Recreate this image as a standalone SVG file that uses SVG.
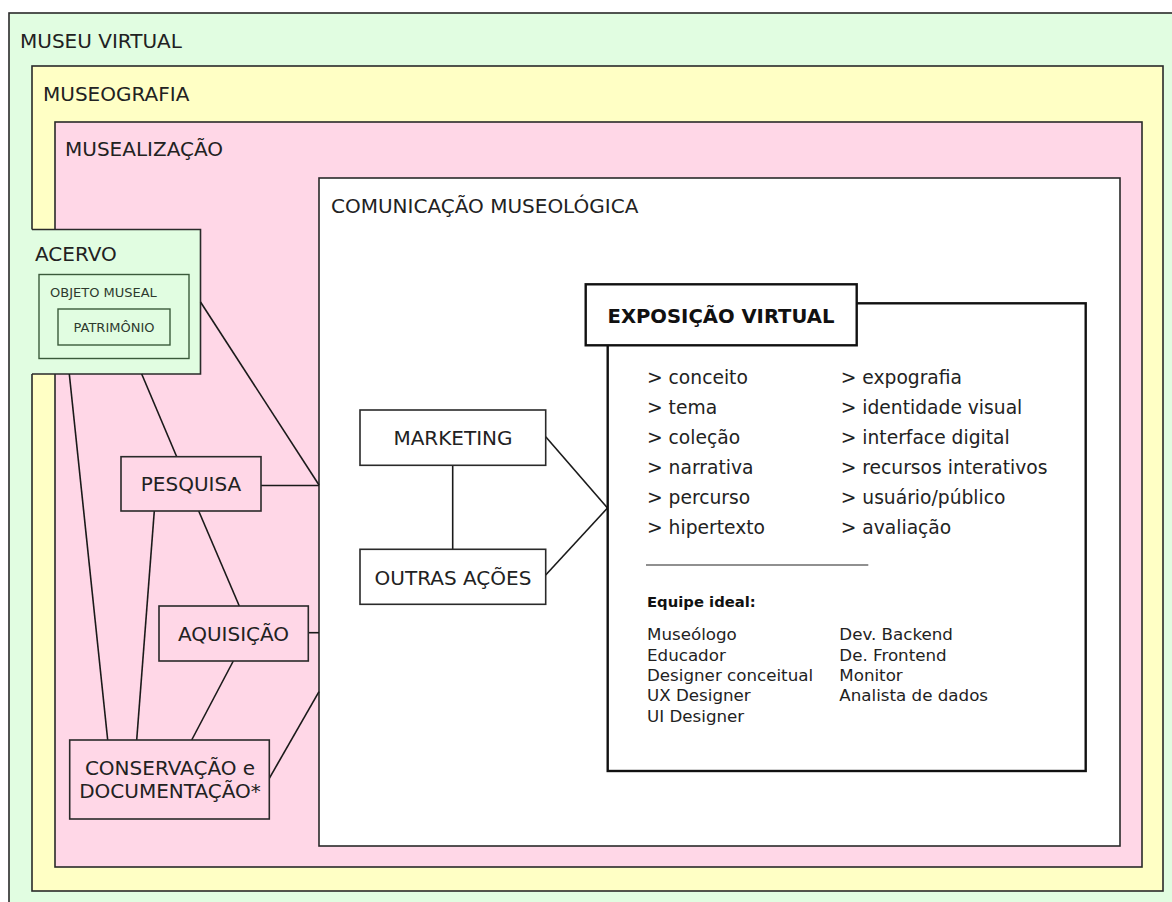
<svg xmlns="http://www.w3.org/2000/svg" width="1172" height="902" viewBox="0 0 1172 902">
<style>
text{font-family:"DejaVu Sans","Liberation Sans",sans-serif;fill:#222}
.lbl{font-size:20px}
.box{stroke:#2a2a2a;stroke-width:1.6}
.node{fill:#ffd7e7;stroke:#2a2a2a;stroke-width:1.6}
.wnode{fill:#fff;stroke:#2a2a2a;stroke-width:1.6}
.gbox{fill:none;stroke:#3b5a3b;stroke-width:1.4}
.conn line{stroke:#1a1a1a;stroke-width:1.6}
.item{font-size:18.7px}
.team{font-size:16.7px}
.c{text-anchor:middle}
</style>
<g id="museu-virtual">
<rect class="box" x="9" y="13" width="1180" height="910" fill="#e1fde1"/>
<text class="lbl" x="20" y="48">MUSEU VIRTUAL</text>
</g>
<g id="museografia">
<rect class="box" x="32" y="66" width="1131" height="825" fill="#ffffc5"/>
<text class="lbl" x="43" y="101">MUSEOGRAFIA</text>
</g>
<g id="musealizacao">
<rect class="box" x="55" y="122" width="1087" height="745" fill="#ffd7e7"/>
<text class="lbl" x="65" y="156">MUSEALIZAÇÃO</text>
</g>
<g id="comunicacao">
<rect class="box" x="319" y="178" width="801" height="668" fill="#fff"/>
<text class="lbl" x="331" y="213">COMUNICAÇÃO MUSEOLÓGICA</text>
</g>
<g id="acervo">
<rect x="10" y="229.5" width="190.5" height="144.5" fill="#e1fde1"/>
<path d="M32,229.5 H200.5 V374 H32" fill="none" stroke="#2a2a2a" stroke-width="1.6"/>
<text class="lbl" x="35" y="261">ACERVO</text>
<rect class="gbox" x="39" y="274.5" width="150" height="84"/>
<text x="50" y="297" style="font-size:13px;fill:#2e3a2e">OBJETO MUSEAL</text>
<rect class="gbox" x="58" y="309" width="112" height="36"/>
<text class="c" x="114" y="332" style="font-size:13px;fill:#2e3a2e">PATRIMÔNIO</text>
</g>
<g id="connectors" class="conn">
<line x1="200.5" y1="302" x2="319" y2="485"/>
<line x1="261" y1="485.5" x2="319" y2="485.5"/>
<line x1="141.7" y1="374" x2="176.7" y2="456.7"/>
<line x1="69.3" y1="374" x2="107.7" y2="740"/>
<line x1="154.3" y1="511" x2="136.7" y2="740"/>
<line x1="198.7" y1="511" x2="239.3" y2="606"/>
<line x1="308.3" y1="632.7" x2="319" y2="632.7"/>
<line x1="233.3" y1="661" x2="191.7" y2="740"/>
<line x1="269.3" y1="778.3" x2="319" y2="691.7"/>
<line x1="452.7" y1="465.3" x2="452.7" y2="549.3"/>
<line x1="545.7" y1="436.7" x2="607.5" y2="508"/>
<line x1="545.7" y1="575" x2="607.5" y2="508"/>
</g>
<g id="pesquisa">
<rect class="node" x="121" y="456.7" width="140" height="54.3"/>
<text class="lbl c" x="191" y="491">PESQUISA</text>
</g>
<g id="aquisicao">
<rect class="node" x="159" y="606" width="149.3" height="55"/>
<text class="lbl c" x="233.5" y="641">AQUISIÇÃO</text>
</g>
<g id="conservacao">
<rect class="node" x="69.7" y="740" width="199.6" height="79"/>
<text class="lbl c" x="170" y="774.5">CONSERVAÇÃO e</text>
<text class="lbl c" x="170" y="797.5">DOCUMENTAÇÃO*</text>
</g>
<g id="marketing">
<rect class="wnode" x="360" y="410" width="185.7" height="55.3"/>
<text class="lbl c" x="453" y="445">MARKETING</text>
</g>
<g id="outras-acoes">
<rect class="wnode" x="360" y="549.3" width="185.7" height="55"/>
<text class="lbl c" x="453" y="585">OUTRAS AÇÕES</text>
</g>
<g id="exposicao-virtual">
<rect x="607.7" y="303.3" width="478" height="467.7" fill="#fff" stroke="#111" stroke-width="2.4"/>
<rect x="585.7" y="284.3" width="271" height="61" fill="#fff" stroke="#111" stroke-width="2.4"/>
<text x="607.5" y="322.5" style="font-size:19.6px;font-weight:bold;fill:#111">EXPOSIÇÃO VIRTUAL</text>
<g class="item">
<text x="647" y="383.5">&gt; conceito</text>
<text x="647" y="413.5">&gt; tema</text>
<text x="647" y="443.5">&gt; coleção</text>
<text x="647" y="473.5">&gt; narrativa</text>
<text x="647" y="503.5">&gt; percurso</text>
<text x="647" y="533.5">&gt; hipertexto</text>
<text x="840.7" y="383.5">&gt; expografia</text>
<text x="840.7" y="413.5">&gt; identidade visual</text>
<text x="840.7" y="443.5">&gt; interface digital</text>
<text x="840.7" y="473.5">&gt; recursos interativos</text>
<text x="840.7" y="503.5">&gt; usuário/público</text>
<text x="840.7" y="533.5">&gt; avaliação</text>
</g>
<line x1="646" y1="565" x2="868.3" y2="565" stroke="#222" stroke-width="1.2"/>
<text x="647" y="607" style="font-size:14.8px;font-weight:bold;fill:#111">Equipe ideal:</text>
<g class="team">
<text x="647" y="640">Museólogo</text>
<text x="647" y="660.5">Educador</text>
<text x="647" y="681">Designer conceitual</text>
<text x="647" y="701.3">UX Designer</text>
<text x="647" y="721.7">UI Designer</text>
<text x="839.3" y="640">Dev. Backend</text>
<text x="839.3" y="660.5">De. Frontend</text>
<text x="839.3" y="681">Monitor</text>
<text x="839.3" y="701.3">Analista de dados</text>
</g>
</g>
</svg>
